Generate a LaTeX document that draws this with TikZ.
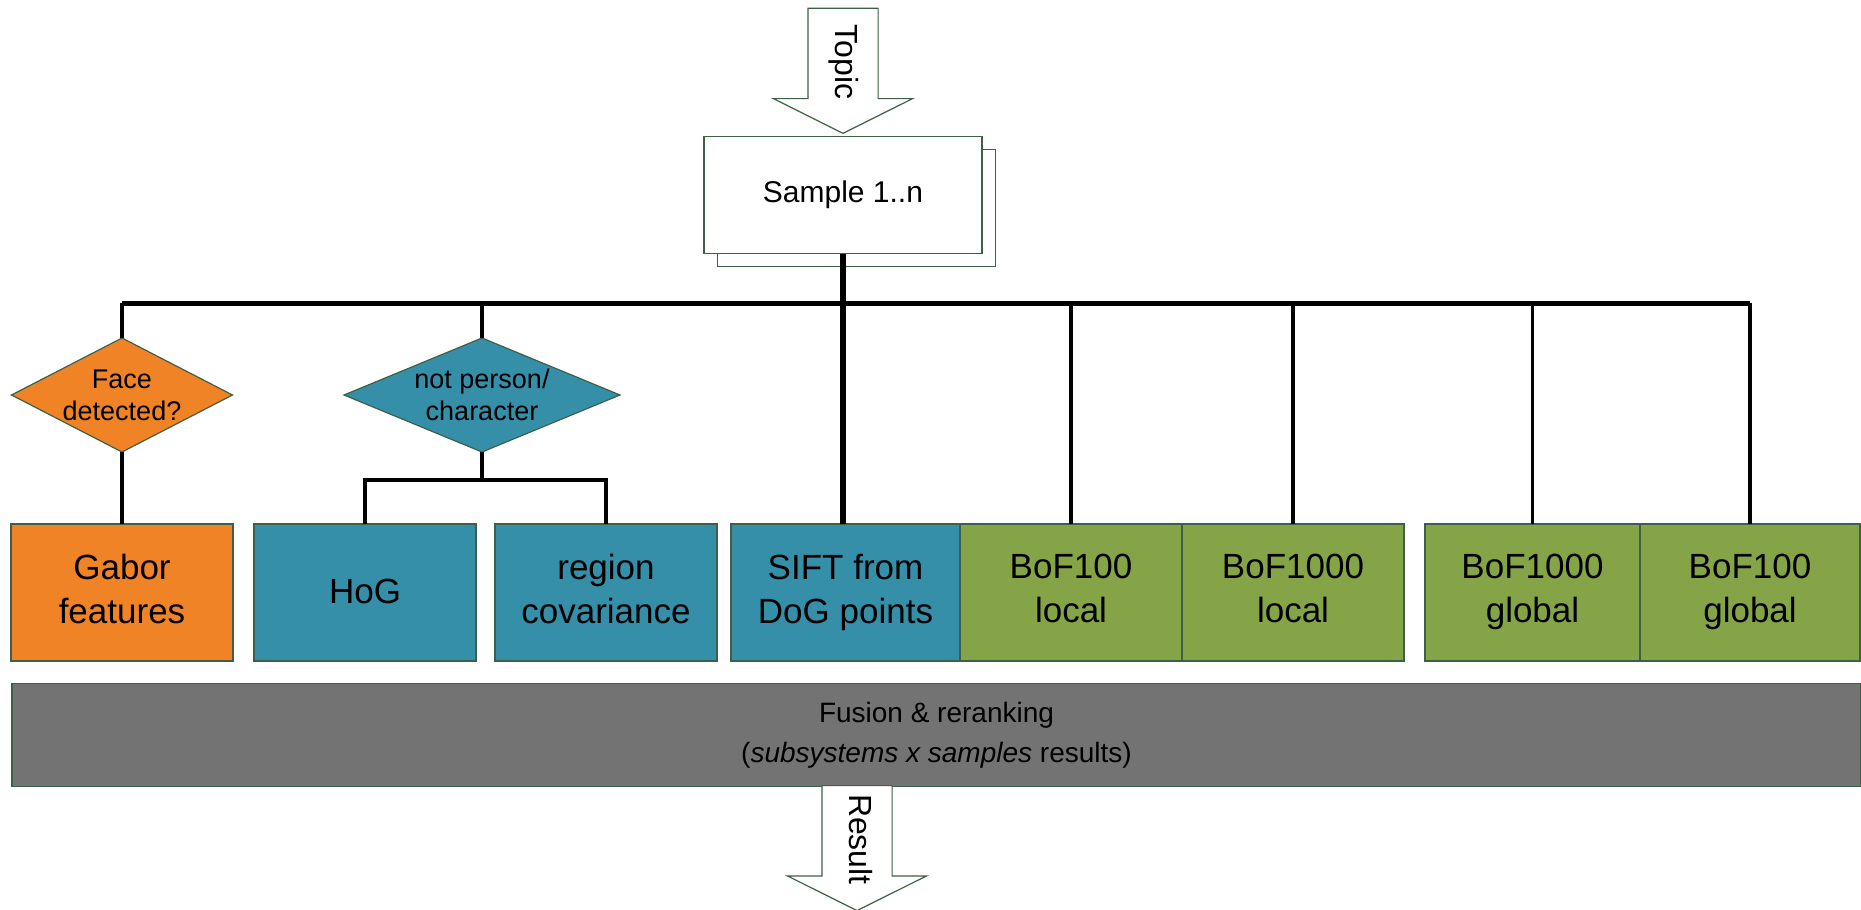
\documentclass[tikz,border=0pt]{standalone}
\usepackage{fontspec}
\setmainfont{Liberation Sans}
\usetikzlibrary{positioning,shapes.geometric,shapes.arrows}
\definecolor{faceorange}{RGB}{240,131,38}
\definecolor{shapeteal}{RGB}{53,143,168}
\definecolor{bofgreen}{RGB}{132,164,71}
\definecolor{fusegray}{RGB}{115,115,115}
\definecolor{edgegreen}{RGB}{62,96,70}
\begin{document}
\begin{tikzpicture}[x=1pt,y=-1pt,
box/.style={draw=edgegreen,line width=1.2pt,align=center,outer sep=0pt,minimum width=222pt,minimum height=137pt},
sub/.style={box,font=\fontsize{35}{44}\selectfont,execute at begin node=\rule{0pt}{29pt},execute at end node=\rule[-8pt]{0pt}{8pt}},
dec/.style={diamond,draw=edgegreen,line width=1.2pt,align=center,inner sep=0pt,outer sep=0pt,minimum height=114pt,font=\fontsize{27}{32}\selectfont},
bigarrow/.style={single arrow,draw=edgegreen,line width=1.2pt,fill=white,rotate=-90,single arrow head extend=34.5pt,single arrow tip angle=127,minimum height=125pt,inner xsep=0pt,inner ysep=19.5pt,text height=23pt,text depth=7pt,font=\fontsize{32}{38}\selectfont},
link/.style={line width=3.8pt},
busline/.style={line width=5pt}]
\useasboundingbox (0,0) rectangle (1861,910);
% topic and samples
\node[box,fill=white,minimum width=278pt,minimum height=117pt](sampleback) at (856.5,208){};
\node[box,fill=white,minimum width=278pt,minimum height=117pt,font=\fontsize{30}{36}\selectfont](sample) at (843,195){Sample 1..n};
\node[bigarrow,anchor=tip](topic) at (843,134){Topic};
% filters
\node[dec,fill=faceorange,minimum width=221pt,aspect=1.94](face) at (122,395){Face\\detected?};
\node[dec,fill=shapeteal,minimum width=276pt,aspect=2.42](notp) at (482,395){not person/\\character};
% subsystems
\node[sub,fill=faceorange](gabor) at (122,592.5){Gabor\\features};
\node[sub,fill=shapeteal,right=21pt of gabor](hog){HoG};
\node[sub,fill=shapeteal,right=19pt of hog](region){region\\covariance};
\node[sub,fill=shapeteal,minimum width=229pt,right=14pt of region](sift){SIFT from\\DoG points};
\node[sub,fill=bofgreen,right=0pt of sift](bofla){BoF100\\local};
\node[sub,fill=bofgreen,right=0pt of bofla](boflb){BoF1000\\local};
\node[sub,fill=bofgreen,minimum width=215pt,right=21pt of boflb](bofgb){BoF1000\\global};
\node[sub,fill=bofgreen,minimum width=220pt,right=0pt of bofgb](bofga){BoF100\\global};
% fusion
\node[box,fill=fusegray,minimum width=1849pt,minimum height=103pt,font=\fontsize{28}{40}\selectfont](fusion) at (936.5,735){Fusion \& reranking\\(\textit{subsystems x samples} results)};
\node[bigarrow,anchor=tail](result) at (857,785){Result};
% connectors
\coordinate(bus) at (843,303);
\coordinate(split) at (482,480);
\draw[line width=6pt](sample.south)--(sample.south|-sift.north);
\draw[busline](face.north|-bus)--(bofga.north|-bus);
\foreach \n in {face,notp,bofla,boflb,bofgb,bofga} \draw[link](\n.north|-bus)--(\n.north);
\draw[link](face.south)--(gabor.north);
\draw[link](notp.south)--(split);
\draw[link](hog.north)|-(split)-|(region.north);
\end{tikzpicture}
\end{document}
